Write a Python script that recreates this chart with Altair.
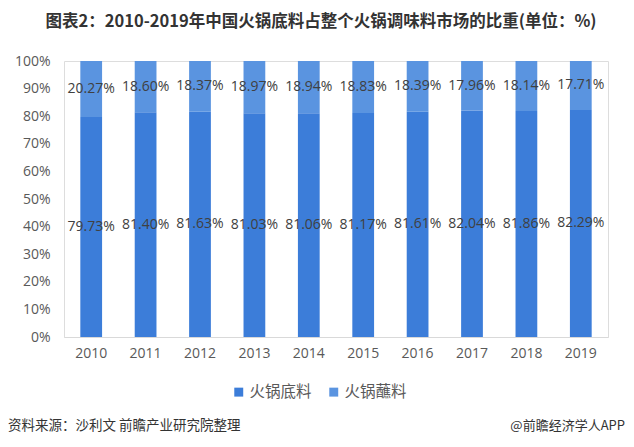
import altair as alt
import pandas as pd

years = ["2010", "2011", "2012", "2013", "2014", "2015", "2016", "2017", "2018", "2019"]
base_share = [79.73, 81.40, 81.63, 81.03, 81.06, 81.17, 81.61, 82.04, 81.86, 82.29]
dip_share = [20.27, 18.60, 18.37, 18.97, 18.94, 18.83, 18.39, 17.96, 18.14, 17.71]
series = ["火锅底料", "火锅蘸料"]
colors = ["#3C7DD9", "#5A94E0"]
y_ticks = [0, 10, 20, 30, 40, 50, 60, 70, 80, 90, 100]

rows = []
for y, b, d in zip(years, base_share, dip_share):
    rows.append({"year": y, "series": series[0], "order": 0, "value": b})
    rows.append({"year": y, "series": series[1], "order": 1, "value": d})
df = pd.DataFrame(rows)

FONT_NUM = "Open Sans"
FONT_CJK = "Noto Sans CJK SC"

base = alt.Chart(df).transform_stack(
    stack="value", groupby=["year"], as_=["y0", "y1"],
    sort=[alt.SortField("order", order="ascending")]
).transform_calculate(
    mid="(datum.y0 + datum.y1) / 2",
    label="format(datum.value, '.2f') + '%'"
)

x_axis = alt.Axis(labelAngle=0, labelFont=FONT_NUM, labelFontSize=14,
                  labelColor="#595959", ticks=False, domainColor="#D9D9D9",
                  labelPadding=9)
x_scale = alt.Scale(paddingInner=0.6, paddingOuter=0.3)
y_axis = alt.Axis(values=y_ticks, labelExpr="datum.value + '%'",
                  labelFont=FONT_NUM, labelFontSize=14, labelColor="#595959",
                  labelOverlap=False, ticks=False, domain=False, grid=False,
                  labelPadding=14)
y_scale = alt.Scale(domain=[0, 100])

bars = base.mark_bar().encode(
    x=alt.X("year:N", sort=years, title=None, scale=x_scale, axis=x_axis),
    y=alt.Y("y0:Q", scale=y_scale, title=None, axis=y_axis),
    y2="y1:Q",
    color=alt.Color("series:N", sort=series,
                    scale=alt.Scale(domain=series, range=colors),
                    legend=alt.Legend(title=None, orient="none", direction="horizontal",
                                      legendX=167, legendY=323, symbolType="square",
                                      symbolSize=80, labelFont=FONT_CJK, labelFontSize=15.5,
                                      labelColor="#595959", columnPadding=14, labelOffset=3,
                                      symbolStrokeWidth=0)),
)

labels = base.mark_text(font=FONT_NUM, fontSize=14, color="#404040").encode(
    x=alt.X("year:N", sort=years, title=None, scale=x_scale, axis=x_axis),
    y=alt.Y("mid:Q", scale=y_scale, title=None, axis=y_axis),
    text="label:N",
)

footer_left = alt.Chart(pd.DataFrame({"t": ["资料来源：沙利文 前瞻产业研究院整理"]})).mark_text(
    font=FONT_CJK, fontSize=13.5, color="#333333", align="left", baseline="middle"
).encode(x=alt.value(-56), y=alt.value(365), text="t:N")

footer_right = alt.Chart(pd.DataFrame({"t": ["@前瞻经济学人APP"]})).mark_text(
    font=FONT_CJK, fontSize=13, color="#333333", align="right", baseline="middle"
).encode(x=alt.value(561), y=alt.value(365), text="t:N")

chart = alt.layer(bars, labels, footer_left, footer_right).properties(
    width=544, height=276,
    autosize=alt.AutoSizeParams(type="none"),
    padding={"left": 56, "top": 53, "right": 18, "bottom": 102},
    title=alt.TitleParams("图表2：2010-2019年中国火锅底料占整个火锅调味料市场的比重(单位：%)",
                          font=FONT_CJK, fontSize=16.5, fontWeight="bold", color="#333333",
                          anchor="middle", frame="group", offset=24, dx=-15),
).configure_view(stroke=None).configure(background="white")

chart.save("out.html", embed_options={"renderer": "svg", "actions": False})
